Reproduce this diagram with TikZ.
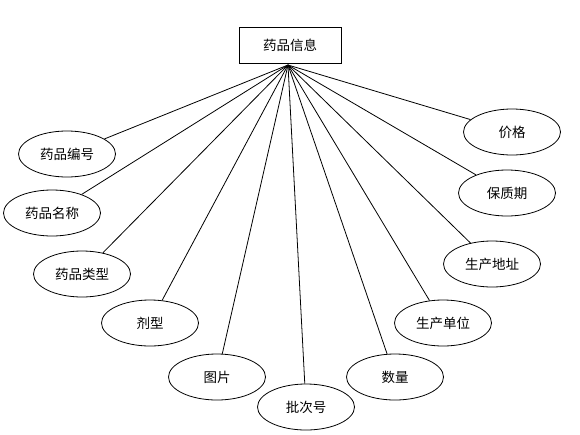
\documentclass[tikz,border=0pt]{standalone}
\usepackage{fontspec}
\setmainfont{Noto Sans CJK SC}
\usetikzlibrary{shapes.geometric}

\tikzset{
  entity/.style = {draw, rectangle, minimum width=102pt, minimum height=36pt, inner sep=0pt, line width=0.8pt},
  attr/.style = {draw, ellipse, minimum width=97pt, minimum height=46pt, inner sep=0pt, line width=0.8pt}
}

\begin{document}
\begin{tikzpicture} [x=1pt, y=-1pt, font=\fontsize{13.5}{16}\selectfont]
       \useasboundingbox (0,0) rectangle (580,434);
       \node (info) [entity] at (290,45) {药品信息};
       \node (num)   [attr] at (67,154)  {药品编号};
       \node (name)  [attr] at (52,213)  {药品名称};
       \node (type)  [attr] at (82,274)  {药品类型};
       \node (form)  [attr] at (150,323) {剂型};
       \node (pic)   [attr] at (217,377) {图片};
       \node (batch) [attr] at (306,407) {批次号};
       \node (qty)   [attr] at (395,377) {数量};
       \node (unit)  [attr] at (443,323) {生产单位};
       \node (addr)  [attr] at (492,264) {生产地址};
       \node (shelf) [attr] at (507,193) {保质期};
       \node (price) [attr] at (512,132) {价格};
        \coordinate (hub) at (288,65);
        \path[draw, line width=0.8pt]
        (hub) edge (num)
        (hub) edge (name)
        (hub) edge (type)
        (hub) edge (form)
        (hub) edge (pic)
        (hub) edge (batch)
        (hub) edge (qty)
        (hub) edge (unit)
        (hub) edge (addr)
        (hub) edge (shelf)
        (hub) edge (price);
     \end{tikzpicture}
\end{document}
